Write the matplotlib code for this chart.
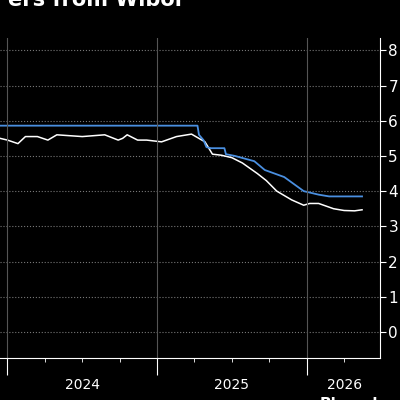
import matplotlib.pyplot as plt
import numpy as np

# x in fractional years
blue_x = [2023.9, 2025.27, 2025.28, 2025.31, 2025.33, 2025.36, 2025.45, 2025.46, 2025.52,
          2025.65, 2025.72, 2025.85, 2025.98, 2026.08, 2026.15, 2026.37]
blue_y = [5.86, 5.86, 5.6, 5.45, 5.25, 5.22, 5.22, 5.05, 5.0,
          4.85, 4.6, 4.4, 4.0, 3.9, 3.85, 3.85]
white_x = [2023.9, 2023.95, 2024.0, 2024.07, 2024.12, 2024.2, 2024.27, 2024.33, 2024.5,
           2024.65, 2024.74, 2024.77, 2024.8, 2024.87, 2024.93, 2025.03, 2025.13,
           2025.23, 2025.32, 2025.37, 2025.43, 2025.5, 2025.57, 2025.67, 2025.73,
           2025.8, 2025.9, 2025.98, 2026.02, 2026.08, 2026.18, 2026.25, 2026.32, 2026.37]
white_y = [5.55, 5.5, 5.45, 5.35, 5.55, 5.55, 5.45, 5.6, 5.55,
           5.6, 5.45, 5.5, 5.6, 5.45, 5.45, 5.4, 5.55,
           5.62, 5.4, 5.05, 5.02, 4.95, 4.8, 4.5, 4.3,
           4.0, 3.75, 3.6, 3.65, 3.65, 3.5, 3.45, 3.44, 3.47]
years = [2024, 2025, 2026]
yticks = list(range(0, 9))

fig = plt.figure(figsize=(4, 4), dpi=100, facecolor="black")
ax = fig.add_axes([0.0, 0.105, 0.95, 0.80], facecolor="black")
ax.plot(white_x, white_y, color="white", lw=1.1)
ax.plot(blue_x, blue_y, color="#4a8fe0", lw=1.3)

ax.set_xlim(2023.95, 2026.49)
ax.set_ylim(-0.74, 8.35)
ax.yaxis.tick_right()
ax.set_yticks(yticks)
ax.tick_params(axis="y", colors="white", labelsize=11, length=4, pad=2)
ax.grid(axis="y", color="#777777", ls=":", lw=0.8)
for yr in years:
    ax.axvline(yr, color="#555555", lw=0.8)

ax.set_xticks(years)
ax.set_xticklabels([])
ax.set_xticks(np.arange(2024, 2026.5, 0.25), minor=True)
ax.tick_params(axis="x", which="both", colors="white", direction="out")
ax.tick_params(axis="x", which="major", length=12)
ax.tick_params(axis="x", which="minor", length=3)
for yr in years:
    ax.text(yr + 0.5 if yr < 2026 else 2026.25, -1.5, str(yr), color="white",
            ha="center", va="center", fontsize=10)

for s in ["top", "left"]:
    ax.spines[s].set_visible(False)
ax.spines["right"].set_color("white")
ax.spines["bottom"].set_color("white")

fig.text(0.02, 1.0, "ers from Wibor", color="white", fontsize=15,
         fontweight="bold", va="center")
fig.text(0.80, -0.01, "Bloomberg", color="white", fontsize=11,
         fontweight="bold", va="center")

fig.savefig("out.png", dpi=100, facecolor="black")
